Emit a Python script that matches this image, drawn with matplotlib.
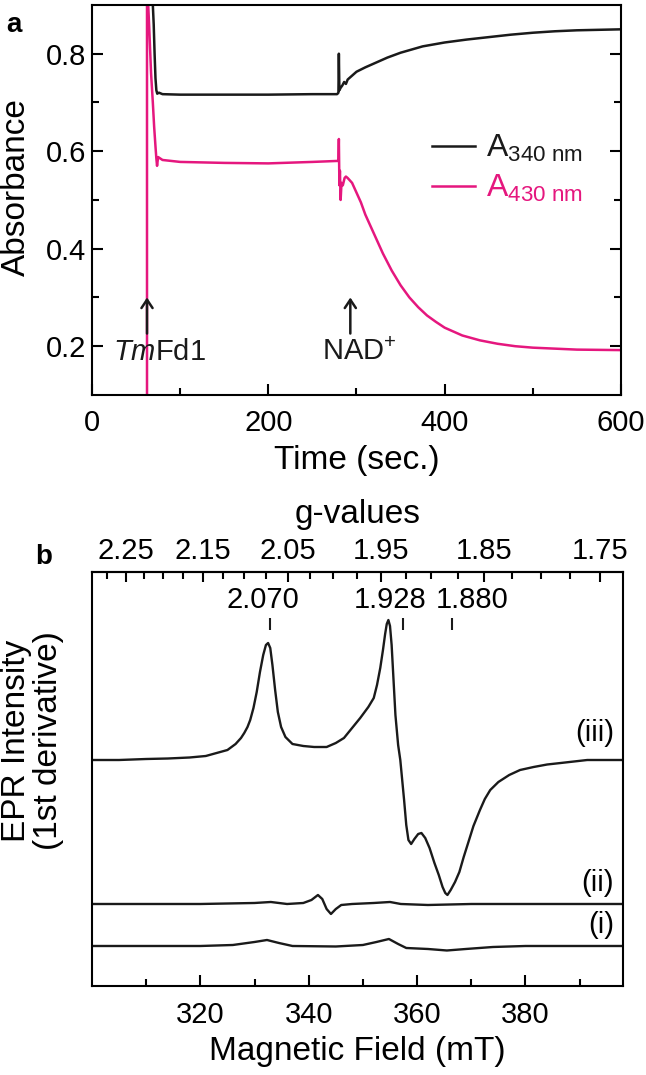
"""
plot.py - Absorbance time course (a) and EPR spectra (b).
"""

import numpy as np
import matplotlib
matplotlib.use('Agg')
import matplotlib.pyplot as plt
from matplotlib.ticker import FixedLocator, NullFormatter

plt.rcParams['font.family'] = ['Liberation Sans', 'DejaVu Sans']
plt.rcParams['mathtext.fontset'] = 'custom'
plt.rcParams['mathtext.rm'] = 'Liberation Sans'
plt.rcParams['mathtext.it'] = 'Liberation Sans:italic'
plt.rcParams['mathtext.default'] = 'regular'

BLACK = '#1a1a1a'
PINK = '#e5177e'

# ---- panel a: absorbance vs time ----
t_340 = [68, 69, 70, 71, 72, 73, 74, 76, 80, 100, 150, 200, 250, 278, 279.5,
         280, 280.6, 282, 284, 286, 288, 290, 295, 300, 310, 320, 335, 350,
         375, 400, 425, 450, 475, 500, 525, 550, 575, 600]
a_340 = [0.91, 0.90, 0.86, 0.80, 0.75, 0.725, 0.718, 0.72, 0.717, 0.716,
         0.716, 0.716, 0.717, 0.717, 0.72, 0.80, 0.725, 0.73, 0.735, 0.742,
         0.738, 0.747, 0.755, 0.763, 0.772, 0.780, 0.792, 0.802, 0.815, 0.823,
         0.829, 0.834, 0.839, 0.843, 0.846, 0.848, 0.849, 0.850]

t_430 = [62.4, 62.4, 63.5, 65, 67, 69, 70.5, 72, 73, 73.8, 75, 80, 100, 150,
         200, 250, 278, 279.5, 280, 280.6, 281.2, 282, 283, 284.5, 286.5, 288,
         290, 295, 300, 305, 310, 315, 320, 330, 340, 350, 360, 370, 380, 390,
         400, 420, 440, 460, 480, 500, 550, 600]
a_430 = [0.10, 0.91, 0.91, 0.85, 0.76, 0.70, 0.65, 0.61, 0.585, 0.57, 0.588,
         0.582, 0.578, 0.576, 0.575, 0.578, 0.58, 0.58, 0.625, 0.53, 0.56,
         0.50, 0.535, 0.53, 0.545, 0.548, 0.545, 0.535, 0.515, 0.495, 0.47,
         0.45, 0.43, 0.39, 0.355, 0.325, 0.30, 0.28, 0.263, 0.25, 0.238,
         0.222, 0.212, 0.205, 0.20, 0.197, 0.193, 0.192]

additions = ['$\\mathit{Tm}$Fd1', 'NAD$^{+}$']
addition_times = [62.4, 293]

# ---- panel b: EPR spectra (arbitrary units, relative to each baseline) ----
field_iii = [300, 305, 310, 314, 318, 321, 323, 325, 326.5, 327.5, 328.1,
             328.7, 329.2, 329.8, 330.4, 331.0, 331.6, 332.1, 332.5, 332.9,
             333.3, 333.8, 334.3, 334.9, 335.7, 337, 339, 341, 343.3, 345,
             346.5, 348, 349.5, 351, 352.0, 352.6, 353.2, 353.7, 354.1, 354.4,
             354.7, 355.0, 355.3, 355.6, 356.0, 356.5, 356.9, 357.6, 358.0,
             358.4, 358.9, 359.5, 360.2, 360.8, 361.5, 362.3, 363.2, 364.0,
             364.7, 365.2, 365.6, 366.2, 367.0, 367.8, 368.6, 369.3, 370.4,
             371.6, 372.5, 373.5, 375, 377, 379, 381.5, 384, 386.5, 391.4,
             398]
int_iii = [0, 0, 1, 1.5, 2.5, 4, 7, 10, 16, 22, 27,
           33, 40, 52, 68, 88, 105, 115, 117, 112,
           95, 70, 48, 33, 23, 16, 14, 13, 13, 17,
           22, 32, 42, 53, 62, 75, 92, 110, 126, 136,
           140, 134, 115, 85, 45, 15, 0, -40, -65,
           -80, -84, -79, -74, -73, -78, -88, -103, -115,
           -127, -133, -135, -130, -122, -112, -97, -85, -66,
           -50, -39, -30, -22, -15, -10, -7, -4.5, -3, 0,
           0]

field_ii = [300, 320, 330, 333, 336, 339, 340.5, 341.7, 342.5, 343.3, 344.1,
            345, 346, 348, 352, 355, 357, 362, 370, 398]
int_ii = [0, 0, 1, 2, 0, 1, 4, 9, 5, -5, -10, -5, -1, 0, 1, 2, 0, -1, 0, 0]

field_i = [300, 320, 326, 330, 332.3, 334.5, 337, 345, 350, 352.5, 354.8,
           356.5, 358, 362, 365.5, 369, 374, 380, 398]
int_i = [0, 0, 1, 4, 6, 3, 0, -0.5, 1, 4, 7, 2, -2, -3, -4.5, -3, -1, 0, 0]

trace_names = ['(iii)', '(ii)', '(i)']
trace_offsets = [226, 82, 40]

g_marked = [2.070, 1.928, 1.880]
g_major = [2.25, 2.15, 2.05, 1.95, 1.85, 1.75]
G_TIMES_B = 689.0  # g * B (mT), i.e. h*nu/mu_B for ~9.66 GHz


def b_to_g(b):
    b = np.asarray(b, dtype=float)
    return G_TIMES_B / np.where(b == 0, 1e-9, b)


fig = plt.figure(figsize=(6.46, 10.75), dpi=100)
ax1 = fig.add_axes([0.1424, 0.6326, 0.8189, 0.3628])
ax2 = fig.add_axes([0.1424, 0.0828, 0.8220, 0.3851])

# ---- panel a ----
line340, = ax1.plot(t_340, a_340, color=BLACK, lw=1.8)
line430, = ax1.plot(t_430, a_430, color=PINK, lw=1.8)
ax1.set_xlim(0, 600)
ax1.set_ylim(0.1, 0.9)
ax1.set_xticks([0, 200, 400, 600])
ax1.set_xticks([100, 300, 500], minor=True)
ax1.set_yticks([0.2, 0.4, 0.6, 0.8])
ax1.set_yticks([0.3, 0.5, 0.7], minor=True)
ax1.tick_params(which='both', direction='in', right=True, top=False,
                labelsize=21, width=1.5)
ax1.tick_params(axis='x', which='both', pad=10)
ax1.tick_params(axis='y', which='both', pad=4)
ax1.tick_params(which='major', length=8)
ax1.tick_params(which='minor', length=5)
for sp in ax1.spines.values():
    sp.set_linewidth(1.5)
ax1.set_xlabel('Time (sec.)', fontsize=24, va='center')
ax1.xaxis.set_label_coords(0.5, -0.167)
ax1.set_ylabel('Absorbance', fontsize=24, va='center')
ax1.yaxis.set_label_coords(-0.142, 0.533)

label_dt = [14, 10]
for name, t, dt in zip(additions, addition_times, label_dt):
    ax1.annotate('', xy=(t, 0.300), xytext=(t, 0.226),
                 arrowprops=dict(arrowstyle='->,head_length=0.6,head_width=0.4',
                                 color=BLACK, lw=1.8, shrinkA=0, shrinkB=0))
    ax1.text(t + dt, 0.188, name, fontsize=21, ha='center', va='center',
             color=BLACK)

ax1.legend([line340, line430],
           ['A$_{340\\ nm}$', 'A$_{430\\ nm}$'],
           loc='upper left', bbox_to_anchor=(0.643, 0.672), frameon=False,
           fontsize=23, handlelength=1.35, handletextpad=0.35,
           labelspacing=0.28, borderpad=0, borderaxespad=0,
           labelcolor='linecolor')

fig.text(0.022, 0.977, 'a', fontsize=20, fontweight='bold', ha='center',
         va='center')

# ---- panel b ----
for field, inten, off, name in zip([field_iii, field_ii, field_i],
                                   [int_iii, int_ii, int_i],
                                   trace_offsets, trace_names):
    ax2.plot(field, np.asarray(inten) + off, color=BLACK, lw=1.7)
    ax2.text(396.3, off + (27 if name == '(iii)' else 21), name, fontsize=21,
             ha='right', va='center')

ax2.set_xlim(300, 398)
ax2.set_ylim(0, 414)
ax2.set_xticks([320, 340, 360, 380])
ax2.set_xticks([310, 330, 350, 370, 390], minor=True)
ax2.set_yticks([])
ax2.tick_params(axis='x', which='both', direction='in', labelsize=21,
                width=1.5, pad=11, top=False)
ax2.tick_params(axis='x', which='major', length=8)
ax2.tick_params(axis='x', which='minor', length=5)
for sp in ax2.spines.values():
    sp.set_linewidth(1.5)
ax2.set_xlabel('Magnetic Field (mT)', fontsize=24, va='center')
ax2.xaxis.set_label_coords(0.5, -0.159)
ax2.set_ylabel('EPR Intensity\n(1st derivative)', fontsize=24, va='center',
               linespacing=1.05)
ax2.yaxis.set_label_coords(-0.112, 0.592)

# marked g-values
b_marked = G_TIMES_B / np.asarray(g_marked)
ax2.vlines(b_marked, 356, 368, color=BLACK, lw=1.5)
label_shift = [-1.3, -2.3, 3.6]
for g, b, dx in zip(g_marked, b_marked, label_shift):
    ax2.text(b + dx, 386, f'{g:.3f}', fontsize=21, ha='center', va='center')

# g-value axis on top
secax = ax2.secondary_xaxis('top', functions=(b_to_g, b_to_g))
secax.xaxis.set_major_locator(FixedLocator(g_major))
secax.xaxis.set_minor_locator(FixedLocator(np.arange(1.75, 2.30, 0.025)))
secax.xaxis.set_minor_formatter(NullFormatter())
secax.set_xticklabels([f'{g:.2f}' for g in g_major])
secax.tick_params(which='both', direction='in', labelsize=21, width=1.5,
                  pad=5)
secax.tick_params(which='major', length=7)
secax.tick_params(which='minor', length=5)
secax.spines['top'].set_linewidth(1.5)
secax.set_xlabel('g-values', fontsize=24, labelpad=10)

fig.text(0.067, 0.482, 'b', fontsize=20, fontweight='bold', ha='center',
         va='center')

fig.savefig('out.png', dpi=100)
